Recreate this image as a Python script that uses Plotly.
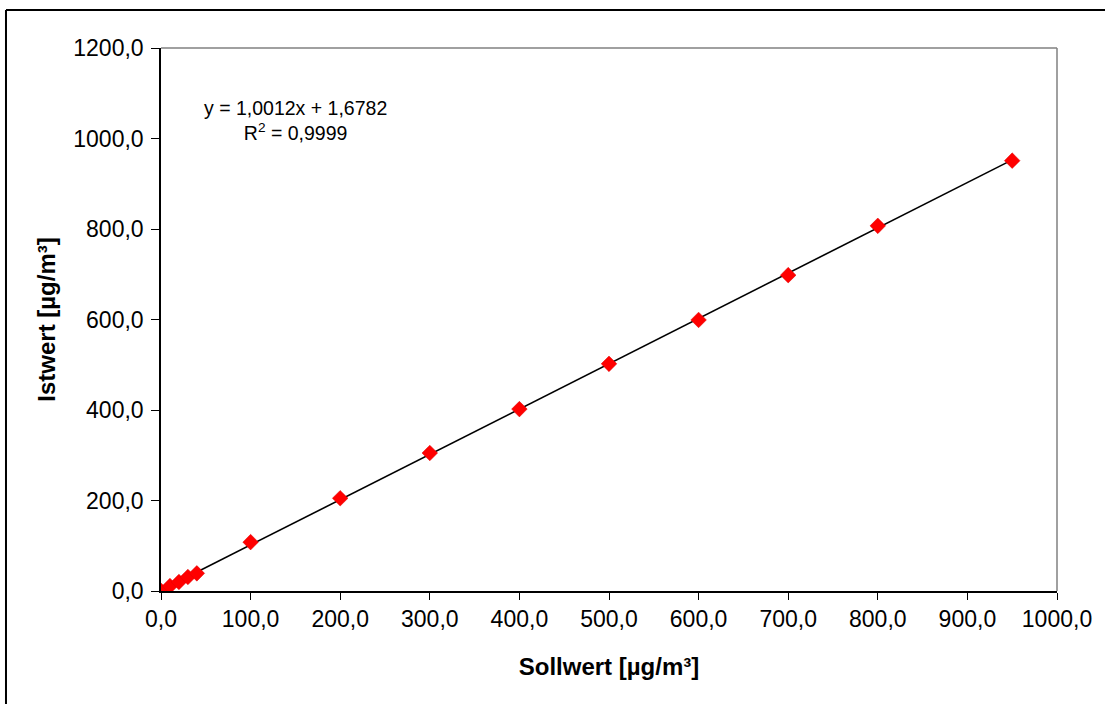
import plotly.graph_objects as go

soll = [0, 10, 20, 30, 40, 100, 200, 300, 400, 500, 600, 700, 800, 950]
ist = [0.5, 11, 20, 31, 39, 108, 205, 305, 402, 502, 599, 698, 807, 951]

slope = 1.0012
intercept = 1.6782
trend_x = [min(soll), max(soll)]
trend_y = [slope * v + intercept for v in trend_x]

x_ticks = [0, 100, 200, 300, 400, 500, 600, 700, 800, 900, 1000]
y_ticks = [0, 200, 400, 600, 800, 1000, 1200]

FONT = "Liberation Sans, Arial, sans-serif"

fig = go.Figure()
fig.add_trace(go.Scatter(x=trend_x, y=trend_y, mode="lines",
                         line=dict(color="black", width=1.6),
                         showlegend=False, hoverinfo="skip"))
fig.add_trace(go.Scatter(x=soll, y=ist, mode="markers",
                         marker=dict(symbol="diamond", size=12, color="#FF0000",
                                     line=dict(color="#E00000", width=0.5)),
                         showlegend=False))

fig.update_layout(
    width=1105, height=704,
    margin=dict(l=161, r=48, t=48, b=113),
    paper_bgcolor="white", plot_bgcolor="white",
    separators=",.",
    font=dict(family=FONT, size=23, color="black"),
    xaxis=dict(range=[0, 1000], tickvals=x_ticks, tickformat=".1f",
               showgrid=False, zeroline=False, showline=True, linecolor="black",
               linewidth=1.5, ticks="outside", ticklen=7, tickcolor="black",
               tickwidth=1.2,
               title=dict(text="<b>Sollwert [µg/m³]</b>", font=dict(size=24), standoff=27)),
    yaxis=dict(range=[0, 1200], tickvals=y_ticks, tickformat=".1f",
               showgrid=False, zeroline=False, showline=True, linecolor="black",
               linewidth=1.5, ticks="outside", ticklen=8, tickcolor="black",
               tickwidth=1.2, ticklabelstandoff=3,
               title=dict(text="<b>Istwert [µg/m³]</b>", font=dict(size=24), standoff=11)),
    shapes=[
        dict(type="line", xref="paper", yref="paper", x0=0, x1=1, y0=1, y1=1,
             line=dict(color="#808080", width=1.5)),
        dict(type="line", xref="paper", yref="paper", x0=1, x1=1, y0=0, y1=1,
             line=dict(color="#808080", width=1.5)),
        dict(type="line", xref="paper", yref="paper", x0=-0.173, x1=1.06, y0=1.070, y1=1.070,
             line=dict(color="black", width=2)),
        dict(type="line", xref="paper", yref="paper", x0=-0.173, x1=-0.173, y0=-0.25, y1=1.070,
             line=dict(color="black", width=2)),
    ],
    annotations=[
        dict(xref="paper", yref="paper", x=(295 - 161) / 896, y=(591 - 120) / 543,
             xanchor="center", yanchor="middle",
             text="y = 1,0012x + 1,6782<br>R<sup>2</sup> = 0,9999",
             showarrow=False, align="center", font=dict(size=19.5)),
    ],
)

fig.write_html("out.html", config={"displayModeBar": False},
               post_script="document.body.style.margin='0';")
